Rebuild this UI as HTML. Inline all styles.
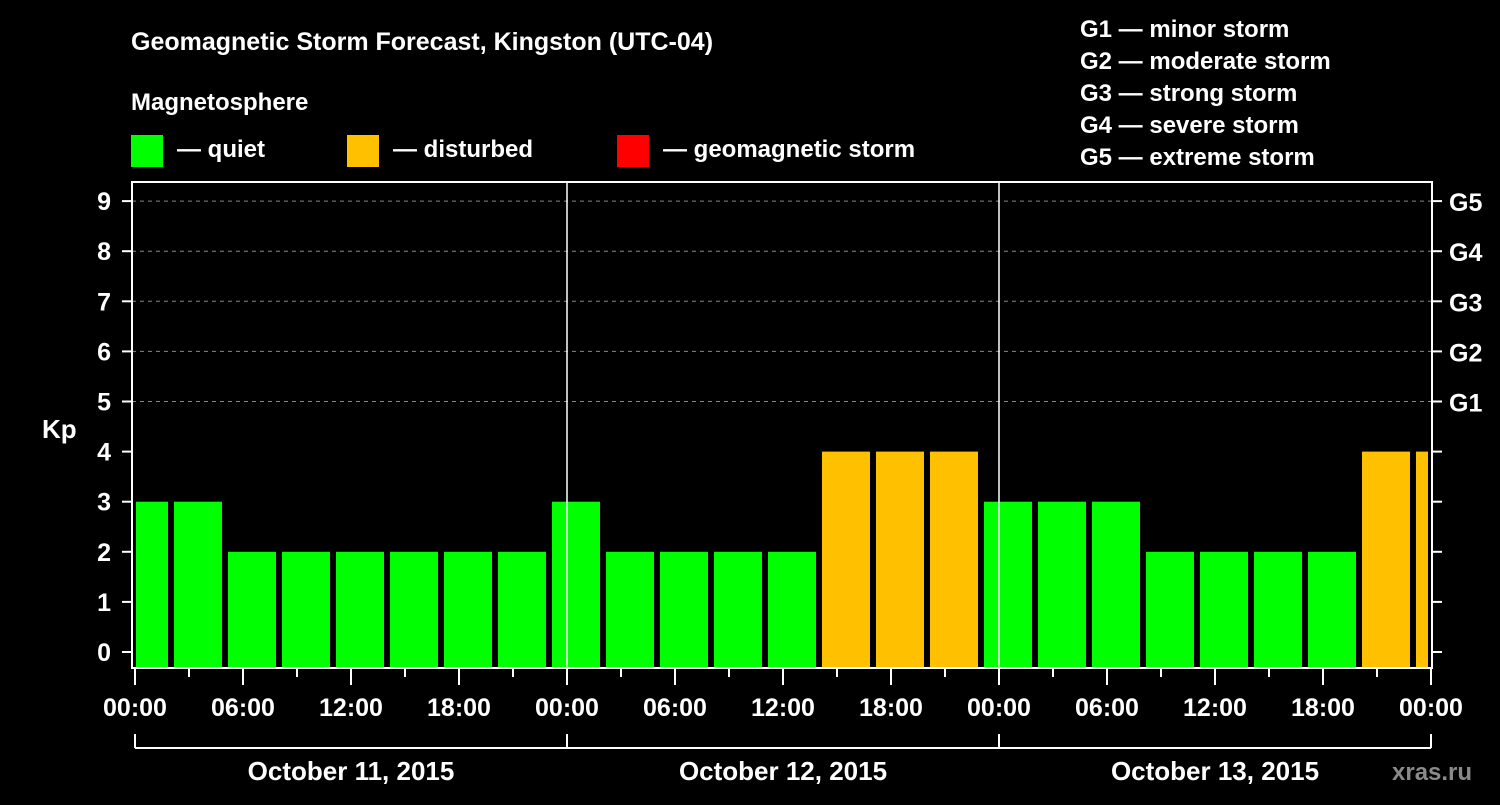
<!DOCTYPE html>
<html><head><meta charset="utf-8"><style>
body{margin:0;background:#000;width:1500px;height:800px;overflow:hidden}
svg text{font-family:"Liberation Sans",Arial,sans-serif;font-weight:bold;fill:#fff}
</style></head><body>
<svg id="chart" width="1500" height="800" xmlns="http://www.w3.org/2000/svg">
<rect width="1500" height="800" fill="#000"/>
<text x="131" y="50" font-size="25">Geomagnetic Storm Forecast, Kingston (UTC-04)</text>
<text x="131" y="110" font-size="24">Magnetosphere</text>
<g>
<rect x="131" y="135" width="32" height="32" fill="#00ff00"/>
<text x="177" y="157" font-size="24">— quiet</text>
<rect x="347" y="135" width="32" height="32" fill="#ffc000"/>
<text x="393" y="157" font-size="24">— disturbed</text>
<rect x="617" y="135" width="32" height="32" fill="#ff0000"/>
<text x="663" y="157" font-size="24">— geomagnetic storm</text>
</g>
<g font-size="24">
<text x="1080" y="37">G1 — minor storm</text>
<text x="1080" y="69">G2 — moderate storm</text>
<text x="1080" y="101">G3 — strong storm</text>
<text x="1080" y="133">G4 — severe storm</text>
<text x="1080" y="165">G5 — extreme storm</text>
</g>
<text x="42" y="438" font-size="26">Kp</text>
<g id="plot"></g>
<text x="1392" y="780" font-size="24" fill="#888" style="fill:#8a8a8a">xras.ru</text>
</svg>
<script>
const kpValues=[3,3,2,2,2,2,2,2,3,2,2,2,2,4,4,4,3,3,3,2,2,2,2,4,4];
const kpTicks=[0,1,2,3,4,5,6,7,8,9];
const gLabels=["G1","G2","G3","G4","G5"];
const timeLabels=["00:00","06:00","12:00","18:00","00:00","06:00","12:00","18:00","00:00","06:00","12:00","18:00","00:00"];
const dayLabels=["October 11, 2015","October 12, 2015","October 13, 2015"];
const NS="http://www.w3.org/2000/svg";
const g=document.getElementById('plot');
const L=132,R=1432,T=182,B=668,X0=135,H3=54;
const y=v=>652-50.1*v;
const xh=h=>X0+h*18;
function el(t,a){const e=document.createElementNS(NS,t);for(const k in a)e.setAttribute(k,a[k]);g.appendChild(e);return e;}
// grid
for(let v=5;v<=9;v++){const e=el('line',{x1:L,x2:R,y1:y(v),y2:y(v),stroke:'#888','stroke-dasharray':'4,4','stroke-width':1});
}
// bars
const clip=el('clipPath',{id:'pc'});const cr=document.createElementNS(NS,'rect');
cr.setAttribute('x',136);cr.setAttribute('y',T);cr.setAttribute('width',1428-136);cr.setAttribute('height',B-T);clip.appendChild(cr);
const bg=el('g',{'clip-path':'url(#pc)'});
kpValues.forEach((v,i)=>{const r=document.createElementNS(NS,'rect');
const right=xh(3*i)+33;
r.setAttribute('x',right-48);r.setAttribute('width',48);r.setAttribute('y',y(v));r.setAttribute('height',667-y(v));
r.setAttribute('fill',v>=5?'#ff0000':v>=4?'#ffc000':'#00ff00');


bg.appendChild(r);});
// day separators
[1,2].forEach(d=>{const e=el('line',{x1:X0+432*d,x2:X0+432*d,y1:T,y2:B,stroke:'#fff','stroke-width':1.5});
});
// frame
const f=el('rect',{x:L,y:T,width:R-L,height:B-T,fill:'none',stroke:'#fff','stroke-width':2});

// y ticks
kpTicks.forEach(v=>{el('line',{x1:122,x2:L,y1:y(v),y2:y(v),stroke:'#fff','stroke-width':2});
el('line',{x1:R,x2:1442,y1:y(v),y2:y(v),stroke:'#fff','stroke-width':2});
const t=el('text',{x:111,y:y(v)+9,'font-size':25,'text-anchor':'end'});t.textContent=v;
});
gLabels.forEach((s,i)=>{const t=el('text',{x:1449,y:y(i+5)+10,'font-size':25});t.textContent=s;
});
// x ticks
for(let h=0;h<=72;h+=3){const major=h%6===0;el('line',{x1:xh(h),x2:xh(h),y1:B,y2:B+(major?17:9),stroke:'#fff','stroke-width':2});}
timeLabels.forEach((s,i)=>{const t=el('text',{x:xh(6*i),y:716,'font-size':25,'text-anchor':'middle'});t.textContent=s;
});
// day bracket
el('line',{x1:X0,x2:X0+1296,y1:748,y2:748,stroke:'#fff','stroke-width':2});
for(let d=0;d<=3;d++)el('line',{x1:X0+432*d,x2:X0+432*d,y1:734,y2:748,stroke:'#fff','stroke-width':2});
dayLabels.forEach((s,i)=>{const t=el('text',{x:X0+432*i+216,y:780,'font-size':26,'text-anchor':'middle'});t.textContent=s;
});
</script>
</body></html>
